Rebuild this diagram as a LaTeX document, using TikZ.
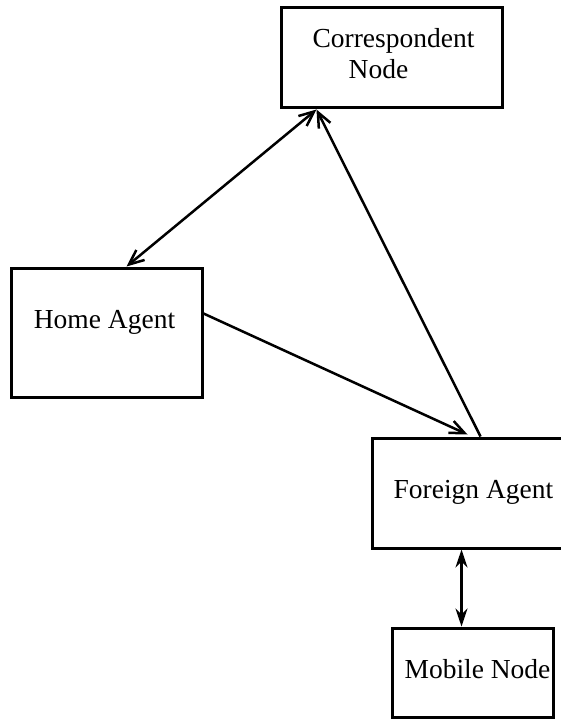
\documentclass[tikz,border=0pt]{standalone}
\usepackage{fontspec}
\setmainfont{Liberation Serif}
\usetikzlibrary{arrows.meta,calc}
\begin{document}
\begin{tikzpicture}[x=1pt,y=-1pt,
  agentbox/.style={draw,line width=3pt,inner sep=0pt},
  caption/.style={anchor=base,inner sep=0pt,font=\fontsize{27.5}{31}\selectfont},
  link/.style={line width=2.5pt},
  barb/.tip={Straight Barb[length=15pt,width=13pt,line width=2.5pt]}]
  \useasboundingbox (0,0) rectangle (560,719);
  % boxes
  \node[agentbox,minimum width=221pt,minimum height=100pt] (cn) at (391.5,58) {};
  \node[agentbox,minimum width=191pt,minimum height=129pt] (ha) at (106.5,332.5) {};
  \node[agentbox,minimum width=203pt,minimum height=110pt] (fa) at (473.5,493) {};
  \node[agentbox,minimum width=161pt,minimum height=89pt] (mn) at (472.5,672.5) {};
  % box captions
  \node[caption] (cnt1) at ($(cn.center)+(2,-10)$) {Correspondent};
  \node[caption] (cnt2) at ($(cn.center)+(-13,21)$) {Node};
  \node[caption] (hat) at ($(ha.center)+(-2,-4.5)$) {Home Agent};
  \node[caption] (fat) at ($(fa.center)+(0,5)$) {Foreign Agent};
  \node[caption] (mnt) at ($(mn.center)+(5,5.5)$) {Mobile Node};
  % connection points on the box borders
  \coordinate (cnB) at ($(cn.south west)+(37,0)$);
  \coordinate (haT) at ($(ha.north west)+(117,0)$);
  \coordinate (haR) at ($(ha.north east)+(0,47)$);
  \coordinate (faIn) at ($(fa.north west)+(97,-2)$);
  \coordinate (faOut) at ($(fa.north west)+(110,0)$);
  \coordinate (faB) at ($(fa.south west)+(91,0)$);
  \coordinate (mnT) at ($(mn.north west)+(71,0)$);
  % links
  \draw[link,barb-barb] (cnB) -- (haT);
  \draw[link,-barb] (haR) -- (faIn);
  \draw[link,-barb] (faOut) -- (cnB);
  \draw[link,{Stealth[length=18pt,width=12pt]}-{Stealth[length=18pt,width=12pt]}]
    (faB) -- (mnT);
\end{tikzpicture}
\end{document}
